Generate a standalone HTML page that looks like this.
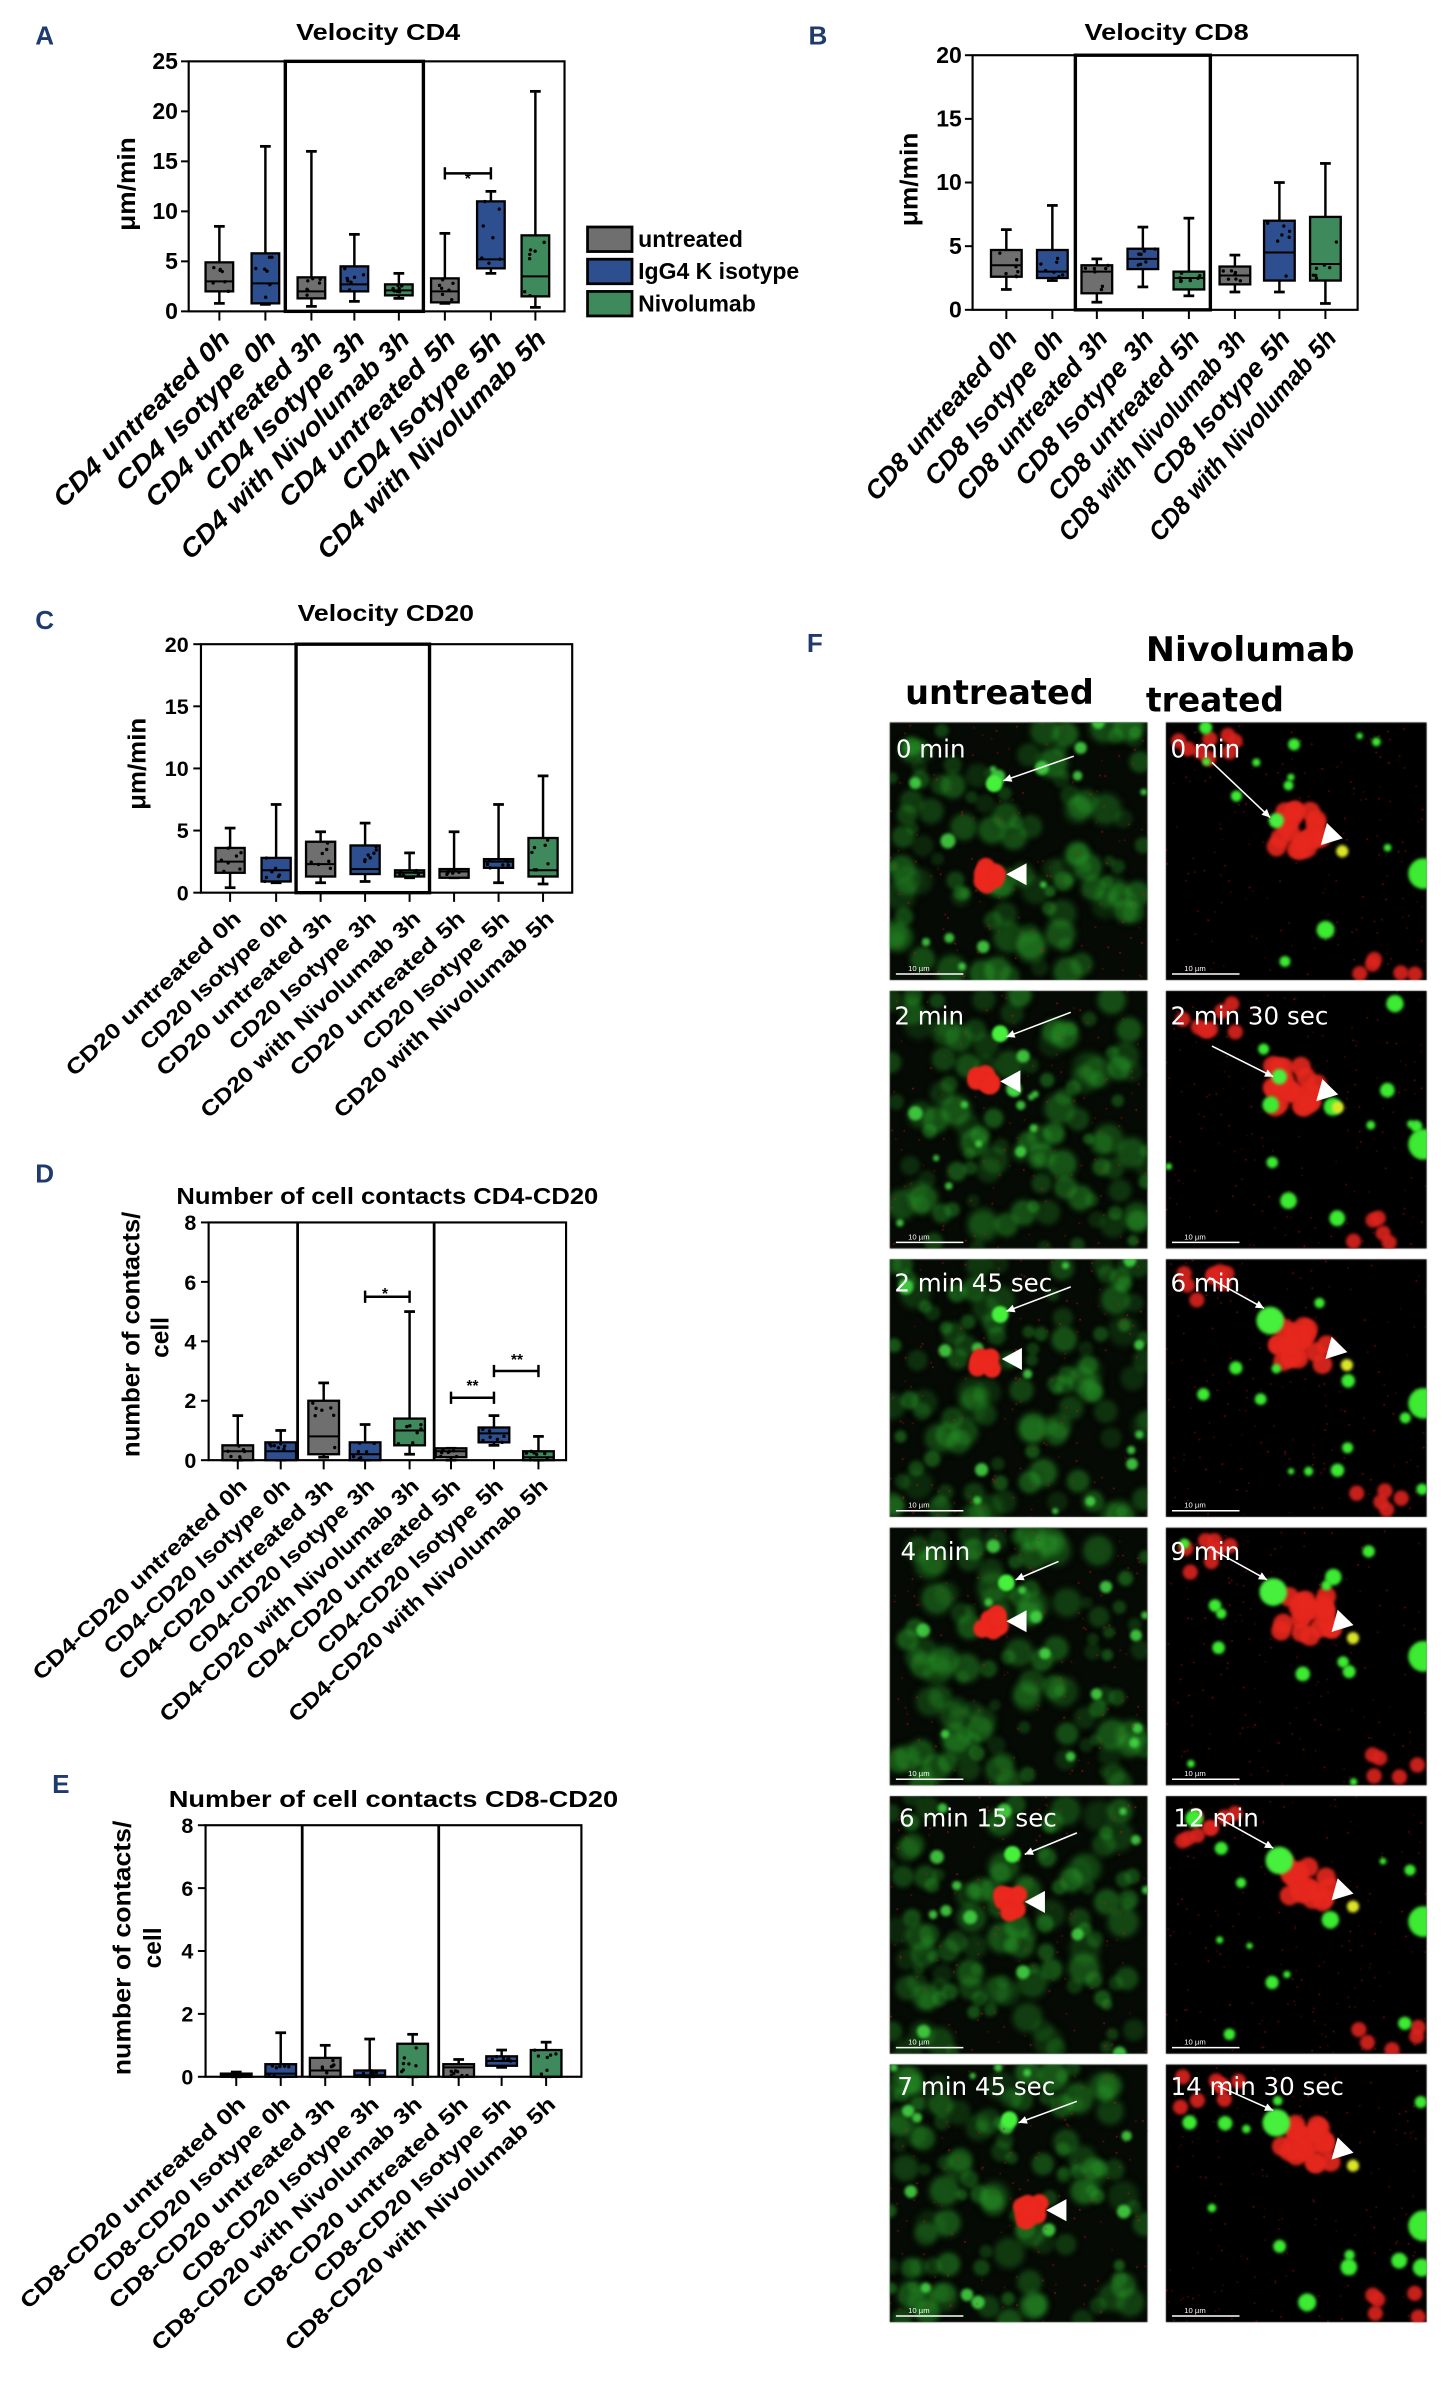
<!DOCTYPE html>
<html><head><meta charset="utf-8">
<style>
html,body{margin:0;padding:0;background:#fff;}
#wrap{position:relative;width:1442px;height:2405px;overflow:hidden;}
canvas,svg{position:absolute;left:0;top:0;}
.lt{font-family:"Liberation Sans",sans-serif;font-weight:bold;fill:#1f3a6e;font-size:17px;}
.tA{font-family:"Liberation Sans",sans-serif;font-weight:bold;font-size:15px;fill:#000;}
.ax{font-family:"Liberation Sans",sans-serif;font-weight:bold;font-size:15px;fill:#000;}
.axc{font-family:"Liberation Sans",sans-serif;font-weight:bold;font-size:14px;fill:#000;}
.cl{font-family:"Liberation Sans",sans-serif;font-weight:bold;font-style:italic;font-size:17px;fill:#000;}
.cw{font-family:"Liberation Sans",sans-serif;font-weight:bold;font-size:14px;fill:#000;}
.yl{font-family:"Liberation Sans",sans-serif;font-weight:bold;font-size:16px;fill:#000;}
.tm{font-family:"DejaVu Sans",sans-serif;font-size:16px;fill:#fff;}
.hd{font-family:"DejaVu Sans",sans-serif;font-weight:bold;font-size:22px;fill:#000;}
.sb{font-family:"Liberation Sans",sans-serif;font-size:5px;fill:#fff;}
</style></head>
<body><div id="wrap">
<canvas id="cv" width="1442" height="2405"></canvas>
<svg id="sv" width="1442" height="2405" viewBox="0 0 940 1568" preserveAspectRatio="none">
<g id="shapes"></g>
<text class="lt" x="23" y="29">A</text>
<text class="lt" x="527" y="29">B</text>
<text class="lt" x="23" y="410">C</text>
<text class="lt" x="23" y="771">D</text>
<text class="lt" x="34" y="1169">E</text>
<text class="lt" x="526" y="425">F</text>

<text class="tA" x="193" y="26" textLength="107" lengthAdjust="spacingAndGlyphs">Velocity CD4</text>
<text class="tA" x="707" y="26" textLength="107" lengthAdjust="spacingAndGlyphs">Velocity CD8</text>
<text class="tA" x="194" y="405" textLength="115" lengthAdjust="spacingAndGlyphs">Velocity CD20</text>
<text class="tA" x="115" y="785" textLength="275" lengthAdjust="spacingAndGlyphs">Number of cell contacts CD4-CD20</text>
<text class="tA" x="110" y="1178" textLength="293" lengthAdjust="spacingAndGlyphs">Number of cell contacts CD8-CD20</text>

<g class="ax" text-anchor="end">
<text x="116" y="208">0</text><text x="116" y="175.4">5</text><text x="116" y="142.8">10</text><text x="116" y="110.2">15</text><text x="116" y="77.6">20</text><text x="116" y="45">25</text>
<text x="627" y="207">0</text><text x="627" y="165.5">5</text><text x="627" y="124">10</text><text x="627" y="82.5">15</text><text x="627" y="41">20</text>
</g>
<g class="axc" text-anchor="end">
<text x="123" y="587">0</text><text x="123" y="546.5">5</text><text x="123" y="506">10</text><text x="123" y="465.5">15</text><text x="123" y="425">20</text>
<text x="128" y="957">0</text><text x="128" y="918">2</text><text x="128" y="880">4</text><text x="128" y="841">6</text><text x="128" y="802">8</text>
<text x="126" y="1359">0</text><text x="126" y="1318">2</text><text x="126" y="1277">4</text><text x="126" y="1236">6</text><text x="126" y="1195">8</text>
</g>

<text class="yl" transform="translate(88,120) rotate(-90)" text-anchor="middle" textLength="61" lengthAdjust="spacingAndGlyphs">μm/min</text>
<text class="yl" transform="translate(598,117) rotate(-90)" text-anchor="middle" textLength="61" lengthAdjust="spacingAndGlyphs">μm/min</text>
<text class="yl" transform="translate(95,498) rotate(-90)" text-anchor="middle" textLength="60" lengthAdjust="spacingAndGlyphs">μm/min</text>
<text class="yl" transform="translate(91,870) rotate(-90)" text-anchor="middle" textLength="160" lengthAdjust="spacingAndGlyphs">number of contacts/</text>
<text class="yl" transform="translate(110,872) rotate(-90)" text-anchor="middle">cell</text>
<text class="yl" transform="translate(85,1270) rotate(-90)" text-anchor="middle" textLength="166" lengthAdjust="spacingAndGlyphs">number of contacts/</text>
<text class="yl" transform="translate(105,1270) rotate(-90)" text-anchor="middle">cell</text>

<g class="ax"><text x="416" y="161">untreated</text><text x="416" y="182">IgG4 Κ isotype</text><text x="416" y="203">Nivolumab</text></g>

<g class="cl" text-anchor="end">
<text transform="translate(151,222) rotate(-45)" textLength="155" lengthAdjust="spacingAndGlyphs">CD4 untreated 0h</text>
<text transform="translate(181,222) rotate(-45)" textLength="140" lengthAdjust="spacingAndGlyphs">CD4 Isotype 0h</text>
<text transform="translate(211,222) rotate(-45)" textLength="155" lengthAdjust="spacingAndGlyphs">CD4 untreated 3h</text>
<text transform="translate(239,222) rotate(-45)" textLength="140" lengthAdjust="spacingAndGlyphs">CD4 Isotype 3h</text>
<text transform="translate(268,222) rotate(-45)" textLength="203" lengthAdjust="spacingAndGlyphs">CD4 with Nivolumab 3h</text>
<text transform="translate(298,222) rotate(-45)" textLength="155" lengthAdjust="spacingAndGlyphs">CD4 untreated 5h</text>
<text transform="translate(328,222) rotate(-45)" textLength="140" lengthAdjust="spacingAndGlyphs">CD4 Isotype 5h</text>
<text transform="translate(357,222) rotate(-45)" textLength="203" lengthAdjust="spacingAndGlyphs">CD4 with Nivolumab 5h</text>
</g>
<g class="cl" text-anchor="end">
<text transform="translate(664,221) rotate(-49)" textLength="141" lengthAdjust="spacingAndGlyphs">CD8 untreated 0h</text>
<text transform="translate(694,221) rotate(-49)" textLength="128" lengthAdjust="spacingAndGlyphs">CD8 Isotype 0h</text>
<text transform="translate(723,221) rotate(-49)" textLength="141" lengthAdjust="spacingAndGlyphs">CD8 untreated 3h</text>
<text transform="translate(753,221) rotate(-49)" textLength="128" lengthAdjust="spacingAndGlyphs">CD8 Isotype 3h</text>
<text transform="translate(783,221) rotate(-49)" textLength="141" lengthAdjust="spacingAndGlyphs">CD8 untreated 5h</text>
<text transform="translate(813,221) rotate(-49)" textLength="176" lengthAdjust="spacingAndGlyphs">CD8 with Nivolumab 3h</text>
<text transform="translate(842,221) rotate(-49)" textLength="128" lengthAdjust="spacingAndGlyphs">CD8 Isotype 5h</text>
<text transform="translate(872,221) rotate(-49)" textLength="176" lengthAdjust="spacingAndGlyphs">CD8 with Nivolumab 5h</text>
</g>
<g class="cw" text-anchor="end">
<text transform="translate(158,600) rotate(-43)" textLength="150" lengthAdjust="spacingAndGlyphs">CD20 untreated 0h</text>
<text transform="translate(188,600) rotate(-43)" textLength="125" lengthAdjust="spacingAndGlyphs">CD20 Isotype 0h</text>
<text transform="translate(217,600) rotate(-43)" textLength="150" lengthAdjust="spacingAndGlyphs">CD20 untreated 3h</text>
<text transform="translate(246,600) rotate(-43)" textLength="125" lengthAdjust="spacingAndGlyphs">CD20 Isotype 3h</text>
<text transform="translate(275,600) rotate(-43)" textLength="190" lengthAdjust="spacingAndGlyphs">CD20 with Nivolumab 3h</text>
<text transform="translate(304,600) rotate(-43)" textLength="150" lengthAdjust="spacingAndGlyphs">CD20 untreated 5h</text>
<text transform="translate(333,600) rotate(-43)" textLength="125" lengthAdjust="spacingAndGlyphs">CD20 Isotype 5h</text>
<text transform="translate(362,600) rotate(-43)" textLength="190" lengthAdjust="spacingAndGlyphs">CD20 with Nivolumab 5h</text>
</g>
<g class="cw" text-anchor="end">
<text transform="translate(162,970) rotate(-43)" textLength="185" lengthAdjust="spacingAndGlyphs">CD4-CD20 untreated 0h</text>
<text transform="translate(190,970) rotate(-43)" textLength="160" lengthAdjust="spacingAndGlyphs">CD4-CD20 Isotype 0h</text>
<text transform="translate(218,970) rotate(-43)" textLength="185" lengthAdjust="spacingAndGlyphs">CD4-CD20 untreated 3h</text>
<text transform="translate(245,970) rotate(-43)" textLength="160" lengthAdjust="spacingAndGlyphs">CD4-CD20 Isotype 3h</text>
<text transform="translate(274,970) rotate(-43)" textLength="225" lengthAdjust="spacingAndGlyphs">CD4-CD20 with Nivolumab 3h</text>
<text transform="translate(301,970) rotate(-43)" textLength="185" lengthAdjust="spacingAndGlyphs">CD4-CD20 untreated 5h</text>
<text transform="translate(329,970) rotate(-43)" textLength="160" lengthAdjust="spacingAndGlyphs">CD4-CD20 Isotype 5h</text>
<text transform="translate(358,970) rotate(-43)" textLength="225" lengthAdjust="spacingAndGlyphs">CD4-CD20 with Nivolumab 5h</text>
</g>
<g class="cw" text-anchor="end">
<text transform="translate(161,1373) rotate(-43)" textLength="195" lengthAdjust="spacingAndGlyphs">CD8-CD20 untreated 0h</text>
<text transform="translate(190,1373) rotate(-43)" textLength="170" lengthAdjust="spacingAndGlyphs">CD8-CD20 Isotype 0h</text>
<text transform="translate(219,1373) rotate(-43)" textLength="195" lengthAdjust="spacingAndGlyphs">CD8-CD20 untreated 3h</text>
<text transform="translate(248,1373) rotate(-43)" textLength="170" lengthAdjust="spacingAndGlyphs">CD8-CD20 Isotype 3h</text>
<text transform="translate(276,1373) rotate(-43)" textLength="235" lengthAdjust="spacingAndGlyphs">CD8-CD20 with Nivolumab 3h</text>
<text transform="translate(306,1373) rotate(-43)" textLength="195" lengthAdjust="spacingAndGlyphs">CD8-CD20 untreated 5h</text>
<text transform="translate(334,1373) rotate(-43)" textLength="170" lengthAdjust="spacingAndGlyphs">CD8-CD20 Isotype 5h</text>
<text transform="translate(363,1373) rotate(-43)" textLength="235" lengthAdjust="spacingAndGlyphs">CD8-CD20 with Nivolumab 5h</text>
</g>

<g class="ax" text-anchor="middle" style="font-size:10px">
<text x="305" y="120">*</text>
<text x="251" y="847">*</text>
<text x="308" y="907">**</text>
<text x="337" y="890">**</text>
</g>

<text class="hd" x="590" y="459" textLength="123" lengthAdjust="spacingAndGlyphs">untreated</text>
<text class="hd" x="747" y="431" textLength="136" lengthAdjust="spacingAndGlyphs">Nivolumab</text>
<text class="hd" x="747" y="464" textLength="90" lengthAdjust="spacingAndGlyphs">treated</text>

<g id="over"></g>
<g class="tm">
<text x="584" y="494">0 min</text>
<text x="583" y="668">2 min</text>
<text x="583" y="842">2 min 45 sec</text>
<text x="587" y="1017">4 min</text>
<text x="586" y="1191">6 min 15 sec</text>
<text x="585" y="1366">7 min 45 sec</text>
<text x="763" y="494">0 min</text>
<text x="763" y="668">2 min 30 sec</text>
<text x="763" y="842">6 min</text>
<text x="763" y="1017">9 min</text>
<text x="765" y="1191">12 min</text>
<text x="763" y="1366">14 min 30 sec</text>
</g>
<g class="sb">
<text x="592" y="633">10 µm</text><text x="592" y="808">10 µm</text><text x="592" y="983">10 µm</text><text x="592" y="1158">10 µm</text><text x="592" y="1333">10 µm</text><text x="592" y="1508">10 µm</text>
<text x="772" y="633">10 µm</text><text x="772" y="808">10 µm</text><text x="772" y="983">10 µm</text><text x="772" y="1158">10 µm</text><text x="772" y="1333">10 µm</text><text x="772" y="1508">10 µm</text>
</g>
</svg>
</div>
<script>
(function(){
var NS="http://www.w3.org/2000/svg";
var G=document.getElementById("shapes");
function el(t,a,p){var e=document.createElementNS(NS,t);for(var k in a)e.setAttribute(k,a[k]);(p||G).appendChild(e);return e;}
var seed=7;function rnd(){seed=(seed*16807)%2147483647;return (seed-1)/2147483646;}
var COL={g:"#6f6f6f",b:"#2e4f8f",n:"#3f8a5c"};
function chart(c){
  var H=c.bot-c.top;function Y(v){return c.bot-v/c.max*H;}
  el("rect",{x:c.x0,y:c.top,width:c.x1-c.x0,height:H,fill:"none",stroke:"#000","stroke-width":1.4});
  c.div.forEach(function(d){el("line",{x1:d,y1:c.top,x2:d,y2:c.bot,stroke:"#000","stroke-width":1.8});});
  if(c.mid) el("rect",{x:c.div[0],y:c.top,width:c.div[1]-c.div[0],height:H,fill:"none",stroke:"#000","stroke-width":2.2});
  for(var v=0;v<=c.max+1e-9;v+=c.step){el("line",{x1:c.x0-5,y1:Y(v),x2:c.x0,y2:Y(v),stroke:"#000","stroke-width":1.3});}
  c.ticks.forEach(function(t){el("line",{x1:t,y1:c.bot,x2:t,y2:c.bot+6,stroke:"#000","stroke-width":1.3});});
  c.data.forEach(function(d,i){
    var x=c.ticks[i],w=c.bw,col=COL[d[0]];
    el("line",{x1:x,y1:Y(d[1]),x2:x,y2:Y(d[2]),stroke:"#000","stroke-width":1.6});
    el("line",{x1:x-3.5,y1:Y(d[2]),x2:x+3.5,y2:Y(d[2]),stroke:"#000","stroke-width":1.8});
    el("line",{x1:x-3.5,y1:Y(d[1]),x2:x+3.5,y2:Y(d[1]),stroke:"#000","stroke-width":1.8});
    el("rect",{x:x-w/2,y:Y(d[4]),width:w,height:Math.max(1.5,Y(d[3])-Y(d[4])),fill:col,stroke:"#000","stroke-width":1.5});
    el("line",{x1:x-w/2,y1:Y(d[5]),x2:x+w/2,y2:Y(d[5]),stroke:"#000","stroke-width":1.3});
    for(var k=0;k<7;k++){var vv=d[3]+(d[4]-d[3])*rnd();el("circle",{cx:x-w/2+2+rnd()*(w-4),cy:Y(vv),r:1.1,fill:"#000"});}
  });
  (c.sig||[]).forEach(function(s){var a=c.ticks[s[0]],b=c.ticks[s[1]],y=Y(s[2]);
    el("line",{x1:a,y1:y,x2:b,y2:y,stroke:"#000","stroke-width":1.6});
    el("line",{x1:a,y1:y-4,x2:a,y2:y+4,stroke:"#000","stroke-width":1.6});
    el("line",{x1:b,y1:y-4,x2:b,y2:y+4,stroke:"#000","stroke-width":1.6});});
}
chart({x0:123,x1:368,top:40,bot:203,max:25,step:5,bw:18,div:[186,276],mid:true,
 ticks:[143,173,203,231,260,290,320,349],
 data:[["g",0.8,8.5,2,4.9,3],["b",0.7,16.5,0.8,5.8,2.8],["g",0.5,16,1.3,3.4,2],["b",1,7.7,2,4.5,2.7],["n",1.3,3.8,1.6,2.7,2.1],["g",0.8,7.8,0.9,3.3,2],["b",3.8,12,4.3,11,5.2],["n",0.4,22,1.5,7.6,3.5]],
 sig:[[5,6,13.8]]});
chart({x0:634,x1:885,top:36,bot:202,max:20,step:5,bw:20,div:[701,789],mid:true,
 ticks:[656,686,715,745,775,805,834,864],
 data:[["g",1.6,6.3,2.6,4.7,3.5],["b",2.3,8.2,2.5,4.7,3],["g",0.6,4,1.3,3.5,3],["b",1.8,6.5,3.2,4.8,4],["n",1.1,7.2,1.6,3,2.5],["g",1.4,4.3,2,3.4,2.7],["b",1.4,10,2.3,7,4.5],["n",0.5,11.5,2.3,7.3,3.6]]});
chart({x0:131,x1:373,top:420,bot:582,max:20,step:5,bw:19,div:[193,280],mid:true,
 ticks:[150,180,209,238,267,296,325,354],
 data:[["g",0.4,5.2,1.6,3.6,2.5],["b",0.8,7.1,0.9,2.8,1.8],["g",0.8,4.9,1.3,4.1,2.3],["b",0.9,5.6,1.5,3.8,1.9],["n",1.2,3.2,1.3,1.8,1.6],["g",1.2,4.9,1.2,1.9,1.7],["b",0.8,7.1,2,2.7,2.5],["n",0.7,9.4,1.3,4.4,1.8]]});
chart({x0:136,x1:369,top:797,bot:952,max:8,step:2,bw:20,div:[194,283],mid:false,
 ticks:[155,183,211,238,267,294,322,351],
 data:[["g",0,1.5,0,0.5,0.3],["b",0,1,0,0.6,0.3],["g",0.1,2.6,0.2,2,0.8],["b",0,1.2,0,0.6,0.2],["n",0.2,5,0.5,1.4,1],["g",0,0.4,0.1,0.4,0.3],["b",0.5,1.5,0.6,1.1,0.9],["n",0,0.8,0,0.3,0.1]],
 sig:[[3,4,5.5],[5,6,2.1],[6,7,3.0]]});
chart({x0:134,x1:379,top:1190,bot:1354,max:8,step:2,bw:20,div:[197,286],mid:false,
 ticks:[154,183,212,241,269,299,327,356],
 data:[["g",0,0.15,0,0.1,0.05],["b",0,1.4,0,0.4,0.1],["g",0,1,0,0.6,0.2],["b",0,1.2,0,0.2,0.05],["n",0,1.35,0,1.05,0],["g",0,0.55,0,0.4,0.3],["b",0.3,0.85,0.35,0.65,0.5],["n",0,1.1,0,0.85,0]]});
[["g",148],["b",169],["n",190]].forEach(function(l){el("rect",{x:383,y:l[1],width:29,height:16,fill:COL[l[0]],stroke:"#000","stroke-width":1.8});});

var cv=document.getElementById("cv"),ctx=cv.getContext("2d");
ctx.scale(1442/940,2405/1568);
var rows=[471,646,821,996,1171,1346];
function blob(x,y,r,c){var g=ctx.createRadialGradient(x,y,0,x,y,r);g.addColorStop(0,c);g.addColorStop(0.55,c);g.addColorStop(1,"rgba(0,0,0,0)");ctx.fillStyle=g;ctx.beginPath();ctx.arc(x,y,r,0,7);ctx.fill();}
function disc(x,y,r,c){ctx.fillStyle=c;ctx.beginPath();ctx.arc(x,y,r,0,7);ctx.fill();}
var O=document.getElementById("over");
function arrowThin(x1,y1,x2,y2){el("line",{x1:x1,y1:y1,x2:x2,y2:y2,stroke:"#fff","stroke-width":1},O);
  var a=Math.atan2(y2-y1,x2-x1),s=6;el("polygon",{points:x2+","+y2+" "+(x2-s*Math.cos(a-0.45))+","+(y2-s*Math.sin(a-0.45))+" "+(x2-s*Math.cos(a+0.45))+","+(y2-s*Math.sin(a+0.45)),fill:"#fff"},O);}
function arrowBig(x,y,ang){var s=15;el("polygon",{points:x+","+y+" "+(x+s*Math.cos(ang-0.5))+","+(y+s*Math.sin(ang-0.5))+" "+(x+s*Math.cos(ang+0.5))+","+(y+s*Math.sin(ang+0.5)),fill:"#fff"},O);}
var L=[[120,22,74,38,68,40,66,100],[118,14,76,30,72,28,62,60],[118,18,76,34,72,36,63,66],[110,22,82,34,76,36,66,62],[122,24,88,38,80,38,78,70],[122,24,84,38,78,36,92,96]];
var R=[[30,26,68,62,72,64,85,70],[30,36,70,56,74,56,82,62],[28,12,64,32,68,40,88,55],[30,14,66,34,70,42,92,58],[34,14,70,34,74,42,92,58],[34,14,70,30,72,38,92,52]];
rows.forEach(function(ty,ri){
  var x0=580,w=168,h=168,i;
  ctx.fillStyle="#050a04";ctx.fillRect(x0,ty,w,h);
  ctx.save();ctx.beginPath();ctx.rect(x0,ty,w,h);ctx.clip();
  ctx.filter="blur(1.5px)";
  for(i=0;i<110;i++)blob(x0+rnd()*w,ty+rnd()*h,5+rnd()*10,"rgba(40,150,40,"+(0.2+rnd()*0.35)+")");
  for(i=0;i<14;i++)disc(x0+rnd()*w,ty+rnd()*h,2+rnd()*3,"rgba(70,220,70,0.85)");
  ctx.filter="none";
  for(i=0;i<120;i++){ctx.fillStyle="rgba(190,25,25,"+(0.4+rnd()*0.5)+")";ctx.fillRect(x0+rnd()*w,ty+rnd()*h,1,1);}
  var p=L[ri];
  ctx.filter="blur(1px)";
  disc(x0+p[4],ty+p[5],5.5,"rgb(70,240,60)");
  for(i=0;i<8;i++)disc(x0+p[6]+(rnd()-0.5)*12,ty+p[7]+(rnd()-0.5)*12,6,"rgb(235,40,30)");
  ctx.filter="none";
  ctx.restore();
  arrowThin(x0+p[0],ty+p[1],x0+p[2],ty+p[3]);
  arrowBig(x0+p[6]+10,ty+p[7]-1,0);
  el("line",{x1:x0+4,y1:ty+h-4,x2:x0+48,y2:ty+h-4,stroke:"#fff","stroke-width":1},O);
  x0=760;w=170;
  ctx.fillStyle="#000";ctx.fillRect(x0,ty,w,h);
  ctx.save();ctx.beginPath();ctx.rect(x0,ty,w,h);ctx.clip();
  for(i=0;i<160;i++){ctx.fillStyle="rgba(170,20,20,"+(0.3+rnd()*0.5)+")";ctx.fillRect(x0+rnd()*w,ty+rnd()*h,1,1);}
  ctx.filter="blur(1.5px)";
  for(i=0;i<8;i++)disc(x0+8+rnd()*40,ty+8+rnd()*22,5,"rgba(220,35,30,0.9)");
  for(i=0;i<5;i++)disc(x0+120+rnd()*45,ty+148+rnd()*18,5,"rgba(220,35,30,0.9)");
  var q=R[ri];
  for(i=0;i<22;i++)disc(x0+q[6]+(rnd()-0.5)*34,ty+q[7]+(rnd()-0.5)*28,6.5,"rgba(230,40,30,0.9)");
  disc(x0+q[4],ty+q[5],ri>1?9:5,"rgb(70,240,60)");
  for(i=0;i<12;i++){disc(x0+rnd()*w,ty+rnd()*h,2+rnd()*4,"rgb(60,235,50)");}
  disc(x0+w-2,ty+80+rnd()*30,10,"rgb(60,235,50)");
  disc(x0+q[6]+30,ty+q[7]+14,4,"rgb(220,230,40)");
  ctx.filter="none";
  ctx.restore();
  arrowThin(x0+q[0],ty+q[1],x0+q[2],ty+q[3]);
  arrowBig(x0+q[6]+16,ty+q[7]+10,-0.8);
  el("line",{x1:x0+4,y1:ty+h-4,x2:x0+48,y2:ty+h-4,stroke:"#fff","stroke-width":1},O);
});
})();
</script>
</body></html>
